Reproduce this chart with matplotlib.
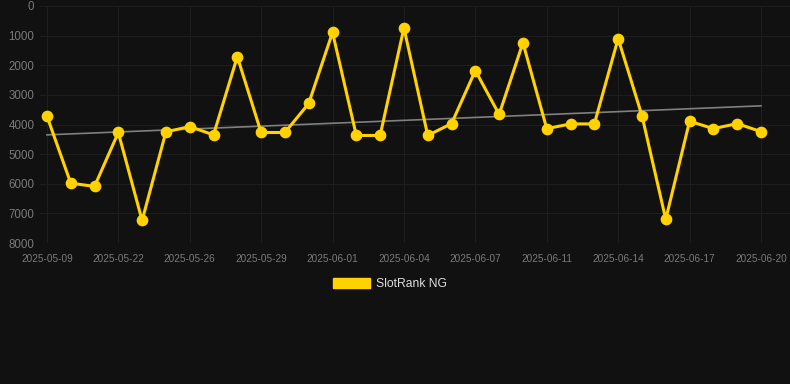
import matplotlib.pyplot as plt
import matplotlib.patches as mpatches
import numpy as np

plt.rcParams['font.family'] = ['Liberation Sans', 'DejaVu Sans']

# rank per day (lower is better), 31 samples
ranks = [3710, 5980, 6090, 4270, 7240, 4250, 4070, 4350, 1710, 4270,
         4270, 3290, 890, 4370, 4370, 740, 4370, 3970, 2180, 3660,
         1240, 4140, 3980, 3980, 1100, 3700, 7200, 3890, 4140, 3970,
         4240]
tick_labels = ['2025-05-09', '2025-05-22', '2025-05-26', '2025-05-29', '2025-06-01',
               '2025-06-04', '2025-06-07', '2025-06-11', '2025-06-14', '2025-06-17',
               '2025-06-20']
trend_start = 4350
trend_end = 3370

bg = '#111111'
gold = '#ffd200'

fig = plt.figure(figsize=(7.9, 3.84), dpi=100, facecolor=bg)
ax = fig.add_axes([40 / 790, 1 - 243 / 384, 1 - 40 / 790, 237 / 384])
ax.set_facecolor(bg)

x = np.arange(len(ranks))
ax.plot([x[0], x[-1]], [trend_start, trend_end], color='#808080', lw=1.2, zorder=2)
ax.plot(x, ranks, color=gold, lw=2.2, marker='o', markersize=7.4, zorder=3)

ax.set_ylim(8000, 0)
ax.set_xlim(-0.29, len(ranks) - 1 + 1.22)
ax.set_yticks(range(0, 8001, 1000))
ax.set_xticks(x[::3])
ax.set_xticklabels(tick_labels)

ax.grid(True, color='#1e1e1e', lw=0.8)
ax.set_axisbelow(True)
for s in ax.spines.values():
    s.set_visible(False)
ax.tick_params(axis='y', length=0, pad=4, labelsize=8.3, labelcolor='#7a7a7a')
ax.tick_params(axis='x', length=0, pad=8, labelsize=7.2, labelcolor='#7a7a7a')

handle = mpatches.Patch(color=gold, label='SlotRank NG')
fig.legend(handles=[handle], loc='center', bbox_to_anchor=(390 / 790, 1 - 284 / 384),
           frameon=False, fontsize=8.7, labelcolor='#dddddd',
           handlelength=3.1, handleheight=0.95, handletextpad=0.5)

fig.savefig('out.png', dpi=100, facecolor=bg)
